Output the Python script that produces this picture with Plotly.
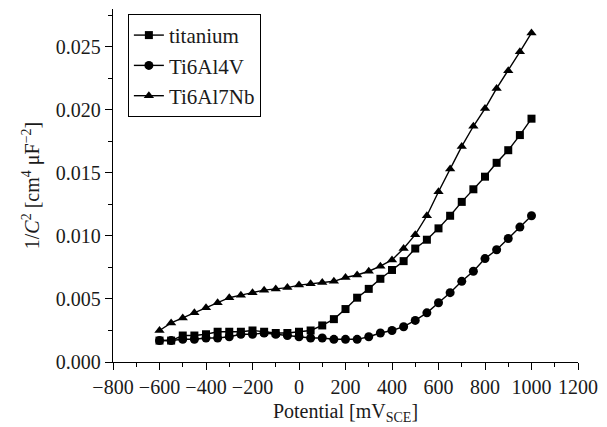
import plotly.graph_objects as go

potential = [-600, -550, -500, -450, -400, -350, -300, -250, -200, -150, -100, -50,
             0, 50, 100, 150, 200, 250, 300, 350, 400, 450, 500, 550, 600, 650,
             700, 750, 800, 850, 900, 950, 1000]

titanium = [0.0017, 0.0017, 0.0021, 0.0021, 0.0022, 0.0024, 0.0024, 0.0024, 0.0025,
            0.0024, 0.0023, 0.0023, 0.0024, 0.0025, 0.0029, 0.0034, 0.0042, 0.0051,
            0.0058, 0.0066, 0.0073, 0.0080, 0.0090, 0.0097, 0.0106, 0.0116, 0.0127,
            0.0137, 0.0147, 0.0158, 0.0168, 0.0180, 0.0193]

ti6al4v = [0.0017, 0.0017, 0.0018, 0.0018, 0.0019, 0.0019, 0.0020, 0.0022, 0.0022,
           0.0023, 0.0022, 0.0021, 0.0020, 0.0019, 0.0019, 0.0018, 0.0018, 0.0018,
           0.0020, 0.0023, 0.0025, 0.0028, 0.0033, 0.0039, 0.0047, 0.0055, 0.0064,
           0.0072, 0.0082, 0.0089, 0.0098, 0.0107, 0.0116]

ti6al7nb = [0.0025, 0.0031, 0.0035, 0.0039, 0.0043, 0.0047, 0.0051, 0.0053, 0.0055,
            0.0057, 0.0058, 0.0059, 0.0061, 0.0062, 0.0063, 0.0064, 0.0067, 0.0069,
            0.0072, 0.0076, 0.0081, 0.0090, 0.0101, 0.0116, 0.0135, 0.0153, 0.0171,
            0.0187, 0.0201, 0.0217, 0.0231, 0.0246, 0.0261]

series = [
    ("titanium", titanium, "square", 8),
    ("Ti6Al4V", ti6al4v, "circle", 9),
    ("Ti6Al7Nb", ti6al7nb, "triangle-up", 9),
]

font_family = "Liberation Serif, Times New Roman, serif"
text_color = "#1a1a1a"

fig = go.Figure()
for name, ys, sym, size in series:
    fig.add_trace(go.Scatter(
        x=potential, y=ys, name=name, mode="lines+markers",
        line=dict(color="black", width=1.4),
        marker=dict(symbol=sym, size=size, color="black"),
    ))

axis_common = dict(
    showline=True, linecolor="black", linewidth=1.4,
    ticks="outside", ticklen=7, tickwidth=1.3, tickcolor="black",
    showgrid=False, zeroline=False, mirror=False,
    tickfont=dict(family=font_family, size=20, color=text_color),
)

fig.update_xaxes(
    range=[-800, 1200], dtick=200, tick0=0, tickangle=0,
    minor=dict(dtick=100, ticks="outside", ticklen=4, tickcolor="black"),
    title=dict(text="Potential [mV<sub>SCE</sub>]",
               font=dict(family=font_family, size=20, color=text_color), standoff=6),
    **axis_common,
)
fig.update_yaxes(
    range=[0, 0.028], dtick=0.005, tick0=0, tickformat=".3f",
    minor=dict(dtick=0.0025, ticks="outside", ticklen=4, tickcolor="black"),
    title=dict(text="1/<i>C</i><sup>2</sup> [cm<sup>4</sup> μF<sup>−2</sup>]",
               font=dict(family=font_family, size=20, color=text_color), standoff=10),
    **axis_common,
)

fig.update_layout(
    width=607, height=427,
    margin=dict(l=113, r=27, t=9, b=64),
    paper_bgcolor="white", plot_bgcolor="white",
    showlegend=True,
    legend=dict(
        x=0.032, y=0.986, xanchor="left", yanchor="top",
        bordercolor="black", borderwidth=1, bgcolor="white",
        font=dict(family=font_family, size=21, color=text_color),
        tracegroupgap=0, itemwidth=30,
    ),
)

fig.write_html("out.html")
